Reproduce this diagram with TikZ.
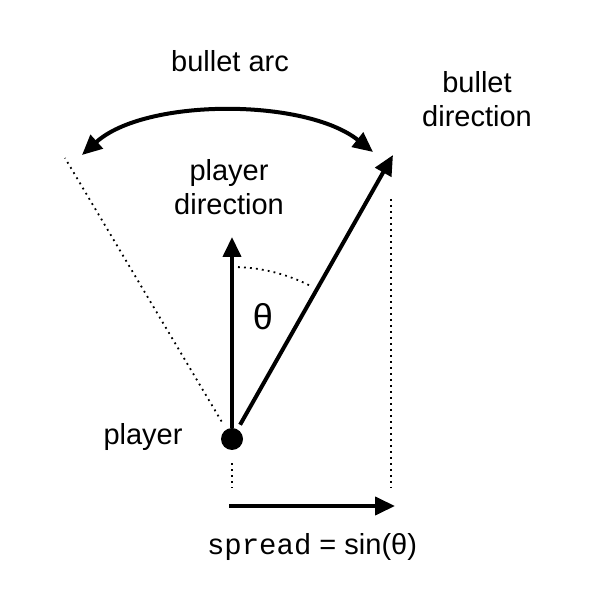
\documentclass[tikz,border=0pt]{standalone}
\usepackage{fontspec}
\setmainfont{Liberation Sans}
\setmonofont{Liberation Mono}
\usetikzlibrary{arrows.meta}

\begin{document}
\begin{tikzpicture}[x=0.5pt,y=0.5pt]
\tikzstyle{every node} = [font = \fontsize{14.5}{17}\selectfont, align=center]
\tikzstyle{vec} = [line width=2pt, -{Triangle[length=10pt,width=9pt]}]
\tikzstyle{guide} = [line width=0.9pt, dash pattern=on 0.9pt off 2.1pt]

\useasboundingbox (0,0) rectangle (594,614);

\node[circle,fill=black,inner sep=0pt,minimum size=11pt] (player) at (232,175) {};

\coordinate (pdir) at (232,377);
\coordinate (bdir) at (393,459);
\coordinate (ledge) at (65,456);
\coordinate (rtop) at (391,415);
\coordinate (rbot) at (391,126);
\coordinate (pbot) at (232,126);
\coordinate (sstart) at (229,108);
\coordinate (send) at (395,108);
\coordinate (arcl) at (82,459);
\coordinate (arcr) at (373,462);

% direzioni
\draw[vec] (player) -- (pdir);
\draw[vec, shorten <=2.5pt] (player) -- (bdir);

% linee guida
\draw[guide, shorten <=4.5pt] (player) -- (ledge);
\draw[guide] (rtop) -- (rbot);
\draw[guide, shorten <=6.5pt] (player) -- (pbot);
\draw[guide] (player.center) ++(88:86pt) arc[start angle=88, end angle=63, radius=86pt];

% arco e spread
\draw[line width=2pt, {Triangle[length=10pt,width=9pt]}-{Triangle[length=10pt,width=9pt]}]
  (arcl) .. controls (145,516) and (305,516) .. (arcr);
\draw[vec] (sstart) -- (send);

% etichette
\node[anchor=base] (arclabel) at (230,542) {bullet arc};
\node[anchor=base] (pdlabel) at (229,399) {player\\direction};
\node[anchor=base] (bdlabel) at (477,487) {bullet\\direction};
\node[anchor=base] (plabel) at (143,169) {player};
\node[anchor=base, font=\fontsize{18}{20}\selectfont] (theta) at (263,284) {θ};
\node[anchor=base] (spreadlabel) at (312,59) {\texttt{spread} = sin(θ)};

\end{tikzpicture}
\end{document}
